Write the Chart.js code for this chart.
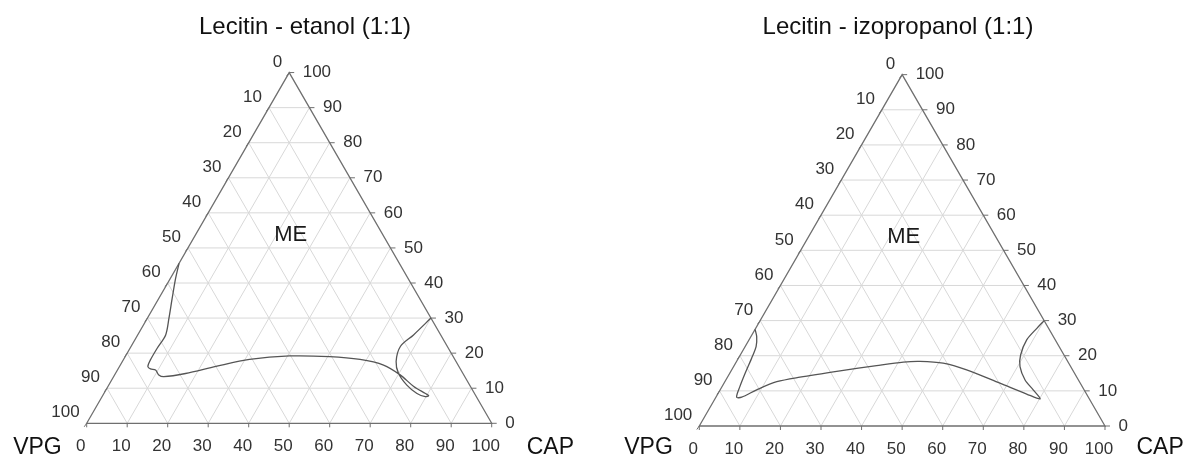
<!DOCTYPE html>
<html>
<head>
<meta charset="utf-8">
<script src="https://cdn.jsdelivr.net/npm/chart.js@4/dist/chart.umd.min.js"></script>
<style>
  html, body { margin: 0; padding: 0; background: #fff; width: 1186px; height: 457px; overflow: hidden; }
  canvas { position: absolute; top: 0; }
  #etanol { left: 0; }
  #izopropanol { left: 593px; }
</style>
</head>
<body>
<canvas id="etanol" width="593" height="457"></canvas>
<canvas id="izopropanol" width="593" height="457"></canvas>
<script>
// Tick values shared by all three sides of the ternary diagrams (%)
const tickValues = [0, 10, 20, 30, 40, 50, 60, 70, 80, 90, 100];

// Phase boundary, lecithin - ethanol (1:1): CAP % and surfactant mix % (top vertex)
const capEtanol = [0.0, 1.3, 3.3, 5.35, 6.9, 6.7, 6.7, 7.0, 8.0, 9.4, 10.9, 12.4, 17.3, 23.8, 31.1, 40.5,
  50.5, 58.4, 65.0, 70.5, 75.5, 79.4, 80.5, 79.8, 77.3, 73.6, 69.9, 67.6, 66.5, 68.1, 70.0];
const smixEtanol = [45.6, 41.3, 35.6, 29.9, 25.2, 21.4, 18.0, 16.2, 15.5, 15.2, 13.8, 13.3, 14.2, 16.2, 18.2, 19.2,
  19.0, 18.2, 16.6, 13.8, 10.5, 8.5, 7.9, 7.6, 8.5, 10.9, 14.2, 17.6, 21.9, 25.2, 30.0];

// Phase boundary, lecithin - isopropanol (1:1)
const capIzopropanol = [0.0, 1.45, 2.7, 3.25, 3.8, 4.4, 5.1, 6.35, 9.0, 12.8, 17.85, 26.85, 35.1, 41.2, 45.2,
  51.15, 57.9, 68.0, 76.15, 80.15, 77.15, 73.75, 70.6, 69.1, 68.45, 69.3, 70.0];
const smixIzopropanol = [27.5, 25.4, 22.6, 19.3, 15.0, 11.2, 8.2, 8.2, 10.3, 12.6, 13.9, 15.7, 17.2, 18.2, 18.4,
  17.9, 16.0, 12.2, 9.1, 7.7, 10.3, 13.1, 16.9, 20.2, 24.5, 27.8, 30.0];

const FONT = "'Liberation Sans', Arial, Helvetica, sans-serif";
const H = Math.sqrt(3) / 2;

// ternary (CAP, top) -> cartesian data units
function toPoints(cap, smix) {
  return cap.map((c, i) => ({ x: c + smix[i] / 2, y: smix[i] * H }));
}

const ternaryPlugin = {
  id: 'ternary',
  beforeDatasetsDraw(chart, args, opt) {
    const ctx = chart.ctx;
    const xs = chart.scales.x, ys = chart.scales.y;
    const P = (cap, s) => [xs.getPixelForValue(cap + s / 2), ys.getPixelForValue(s * H)];
    const seg = (a, b) => { ctx.beginPath(); ctx.moveTo(a[0], a[1]); ctx.lineTo(b[0], b[1]); ctx.stroke(); };

    ctx.save();
    // grid lines every 10 %
    ctx.strokeStyle = '#d8d8d8';
    ctx.lineWidth = 1;
    for (const v of tickValues) {
      if (v === 0 || v === 100) continue;
      seg(P(0, v), P(100 - v, v));        // constant top component
      seg(P(v, 0), P(v, 100 - v));        // constant CAP
      seg(P(100 - v, 0), P(0, 100 - v));  // constant VPG
    }

    // triangle frame
    ctx.strokeStyle = '#6f6f6f';
    ctx.lineWidth = 1.3;
    const bl = P(0, 0), br = P(100, 0), ap = P(0, 100);
    ctx.beginPath();
    ctx.moveTo(bl[0], bl[1]); ctx.lineTo(br[0], br[1]); ctx.lineTo(ap[0], ap[1]); ctx.closePath();
    ctx.stroke();

    // tick marks and tick labels
    ctx.lineWidth = 1;
    ctx.fillStyle = '#333';
    ctx.font = '17px ' + FONT;
    ctx.textBaseline = 'middle';
    for (const v of tickValues) {
      // bottom side: CAP
      const b = P(v, 0);
      seg(b, [b[0], b[1] + 4]);
      ctx.textAlign = 'center';
      ctx.fillText(String(v), b[0] - 6, b[1] + 23);
      // left side: VPG
      const l = P(0, 100 - v);
      seg(l, [l[0] - 2.5, l[1] + 3.5]);
      ctx.textAlign = 'right';
      ctx.fillText(String(v), l[0] - 7, l[1] - 10.5);
      // right side: top component
      const r = P(100 - v, v);
      seg(r, [r[0] + 5, r[1]]);
      ctx.textAlign = 'left';
      ctx.fillText(String(v), r[0] + 13.5, r[1]);
    }

    // region label
    ctx.fillStyle = '#1a1a1a';
    ctx.font = '22px ' + FONT;
    ctx.textAlign = 'center';
    ctx.fillText('ME', ap[0] + 1.5, ap[1] + 162);

    // corner labels
    ctx.textBaseline = 'alphabetic';
    ctx.font = '23px ' + FONT;
    ctx.fillStyle = '#111';
    ctx.textAlign = 'right';
    ctx.fillText('VPG', bl[0] - opt.vpgGap, 454);
    ctx.textAlign = 'left';
    ctx.fillText('CAP', br[0] + opt.capGap, 453.5);

    // title
    ctx.font = '24px ' + FONT;
    ctx.textAlign = 'center';
    ctx.fillText(opt.title, opt.titleX, 34);
    ctx.restore();
  }
};

function makeChart(id, cap, smix, layout) {
  return new Chart(document.getElementById(id), {
    type: 'scatter',
    data: {
      datasets: [{
        data: toPoints(cap, smix),
        showLine: true,
        tension: 0.3,
        borderColor: '#555',
        borderWidth: 1.3,
        pointRadius: 0,
        fill: false
      }]
    },
    options: {
      responsive: false,
      animation: false,
      layout: { padding: 0 },
      scales: {
        x: { type: 'linear', display: false, min: layout.xMin, max: layout.xMin + layout.xSpan },
        y: { type: 'linear', display: false, min: layout.yMin, max: layout.yMin + layout.ySpan }
      },
      plugins: {
        legend: { display: false },
        tooltip: { enabled: false },
        ternary: { title: layout.title, titleX: layout.titleX, vpgGap: layout.vpgGap, capGap: layout.capGap }
      }
    },
    plugins: [ternaryPlugin]
  });
}

makeChart('etanol', capEtanol, smixEtanol, {
  xMin: -21.407, xSpan: 593 / 4.05, yMin: -8.321, ySpan: 457 / 4.05,
  title: 'Lecitin - etanol (1:1)', titleX: 305, vpgGap: 25, capGap: 35
});
makeChart('izopropanol', capIzopropanol, smixIzopropanol, {
  xMin: -26.2, xSpan: 593 / 4.057, yMin: -7.641, ySpan: 457 / 4.057,
  title: 'Lecitin - izopropanol (1:1)', titleX: 305, vpgGap: 26.5, capGap: 31.5
});
</script>
</body>
</html>
